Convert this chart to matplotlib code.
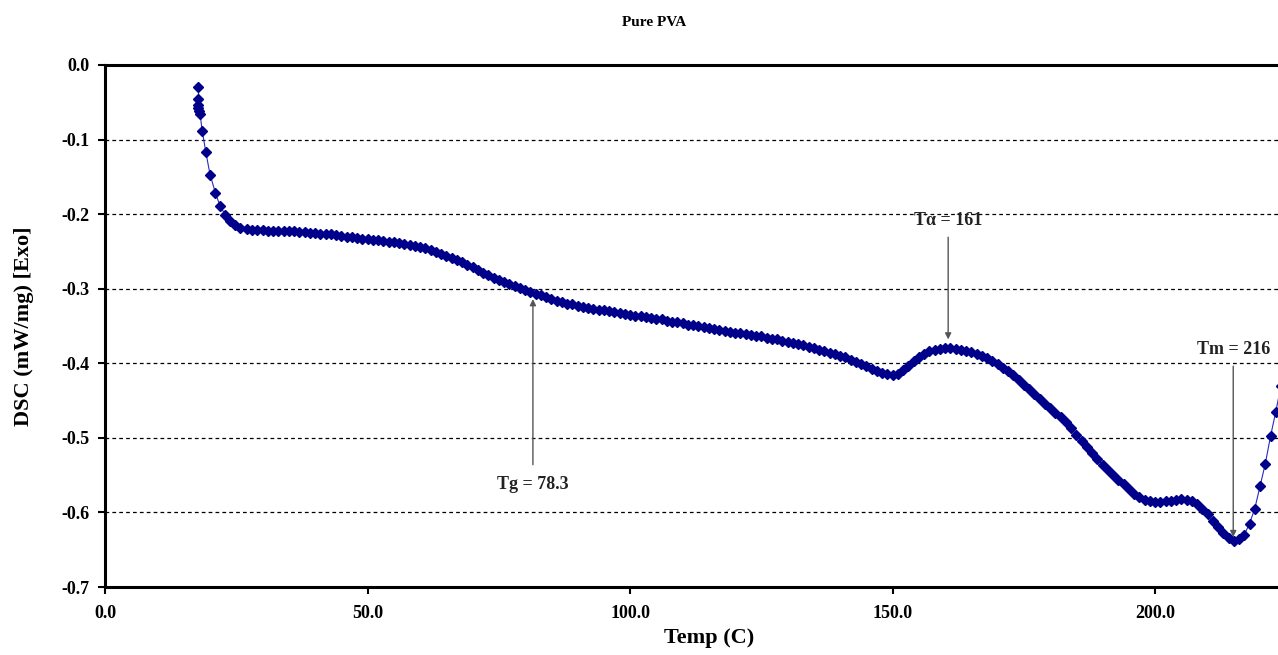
import matplotlib
matplotlib.use("Agg")
import matplotlib.pyplot as plt
from matplotlib.ticker import FormatStrFormatter

plt.rcParams['font.family'] = ['Liberation Serif', 'DejaVu Serif']
plt.rcParams['axes.unicode_minus'] = False

# DSC trace of pure PVA
temp = [17.8, 17.8, 17.8, 17.8, 17.9, 18.1, 18.5, 19.2, 20.0, 21.0, 21.9, 22.9, 23.8, 24.8, 25.7,
        27, 28, 29, 30, 31, 32, 33, 34, 35, 36, 37, 38, 39, 40,
        41, 42, 43, 44, 45, 46, 47, 48, 49, 50,
        51, 52, 53, 54, 55, 56, 57, 58, 59, 60,
        61, 62, 63, 64, 65, 66, 67, 68, 69, 70,
        71, 72, 73, 74, 75, 76, 77, 78, 79, 80,
        81, 82, 83, 84, 85, 86, 87, 88, 89, 90,
        91, 92, 93, 94, 95, 96, 97, 98, 99, 100,
        101, 102, 103, 104, 105, 106, 107, 108, 109, 110,
        111, 112, 113, 114, 115, 116, 117, 118, 119, 120,
        121, 122, 123, 124, 125, 126, 127, 128, 129, 130,
        131, 132, 133, 134, 135, 136, 137, 138, 139, 140,
        141, 142, 143, 144, 145, 146, 147, 148, 149, 150,
        151, 152, 153, 154, 155, 156, 157, 158, 159, 160,
        161, 162, 163, 164, 165, 166, 167, 168, 169, 170,
        171, 172, 173, 174, 175, 176, 177, 178, 179, 180,
        181, 182, 183, 184, 185, 186, 187, 188, 189, 190,
        191, 192, 193, 194, 195, 196, 197, 198, 199, 200,
        201, 202, 203, 204, 205, 206, 207, 208, 209, 210,
        211, 212, 213, 214, 215, 216, 217, 218, 219, 220,
        221, 222, 223, 224]
dsc = [-0.030, -0.046, -0.054, -0.058, -0.062, -0.066, -0.088, -0.117, -0.147, -0.171, -0.189, -0.201, -0.209, -0.215, -0.218,
       -0.220, -0.221, -0.221, -0.221, -0.222, -0.222, -0.222, -0.222, -0.223, -0.223, -0.224, -0.224, -0.225, -0.225,
       -0.226, -0.227, -0.227, -0.228, -0.229, -0.230, -0.231, -0.232, -0.233, -0.234,
       -0.235, -0.235, -0.236, -0.237, -0.238, -0.239, -0.240, -0.241, -0.243, -0.244,
       -0.246, -0.248, -0.251, -0.254, -0.256, -0.259, -0.262, -0.264, -0.268, -0.271,
       -0.275, -0.279, -0.282, -0.285, -0.288, -0.291, -0.294, -0.297, -0.299, -0.302,
       -0.305, -0.307, -0.309, -0.311, -0.314, -0.316, -0.318, -0.320, -0.321, -0.323,
       -0.324, -0.326, -0.327, -0.328, -0.329, -0.330, -0.331, -0.332, -0.334, -0.335,
       -0.336, -0.337, -0.338, -0.339, -0.340, -0.341, -0.343, -0.344, -0.345, -0.346,
       -0.348, -0.349, -0.350, -0.351, -0.353, -0.354, -0.355, -0.357, -0.358, -0.359,
       -0.360, -0.361, -0.362, -0.363, -0.364, -0.366, -0.367, -0.368, -0.370, -0.371,
       -0.373, -0.374, -0.376, -0.378, -0.380, -0.382, -0.384, -0.386, -0.388, -0.390,
       -0.392, -0.395, -0.398, -0.401, -0.404, -0.407, -0.410, -0.413, -0.415, -0.416,
       -0.414, -0.409, -0.403, -0.397, -0.392, -0.388, -0.384, -0.382, -0.381, -0.380,
       -0.380, -0.381, -0.382, -0.383, -0.385, -0.387, -0.390, -0.393, -0.397, -0.401,
       -0.406, -0.411, -0.416, -0.423, -0.429, -0.435, -0.441, -0.448, -0.454, -0.460,
       -0.466, -0.472, -0.479, -0.487, -0.496, -0.504, -0.512, -0.520, -0.528, -0.536,
       -0.543, -0.550, -0.556, -0.562, -0.569, -0.575, -0.579, -0.583, -0.585, -0.586,
       -0.586, -0.585, -0.584, -0.583, -0.582, -0.583, -0.585, -0.589, -0.595, -0.602,
       -0.611, -0.620, -0.628, -0.634, -0.638, -0.636, -0.630, -0.615, -0.595, -0.565,
       -0.535, -0.498, -0.465, -0.430]

# annotations: label, arrow x, tail y, head y, text y
notes = [('Tg = 78.3', 81.5, -0.536, -0.314, -0.563),
         ('Tα = 161', 160.6, -0.231, -0.368, -0.209),
         ('Tm = 216', 214.9, -0.404, -0.633, -0.382)]

fig = plt.figure(figsize=(12.78, 6.55), dpi=100)
ax = fig.add_axes([0.0822, 0.1038, 0.9448, 0.797])

ax.plot(temp, dsc, color='#2a2ac0', lw=0.8, marker='D', markersize=4.8,
        markerfacecolor='#00008b', markeredgecolor='#00008b', zorder=3)

for label, xa, ytail, yhead, ytext in notes:
    ax.annotate('', xy=(xa, yhead), xytext=(xa, ytail),
                arrowprops=dict(arrowstyle='-|>', color='#555555', lw=1.0,
                                mutation_scale=9, shrinkA=0, shrinkB=0))
    ax.text(xa, ytext, label, ha='center', va='center', fontsize=13,
            fontweight='bold', color='#222222')

ax.set_xlim(0, 230)
ax.set_ylim(-0.7, 0.0)
ax.set_xticks([0, 50, 100, 150, 200])
ax.set_yticks([-0.7, -0.6, -0.5, -0.4, -0.3, -0.2, -0.1, 0.0])
ax.xaxis.set_major_formatter(FormatStrFormatter('%.1f'))
ax.yaxis.set_major_formatter(FormatStrFormatter('%.1f'))
ax.tick_params(axis='both', direction='out', length=5, width=1.5, labelsize=13)
ax.tick_params(axis='x', pad=8)
ax.tick_params(axis='y', pad=6)
for lab in ax.get_xticklabels() + ax.get_yticklabels():
    lab.set_fontweight('bold')

ax.grid(axis='y', color='black', linestyle=(0, (3, 2.5)), lw=0.9)
for side in ['left', 'bottom', 'top', 'right']:
    ax.spines[side].set_linewidth(2.2)

ax.set_xlabel('Temp (C)', fontsize=16, fontweight='bold', labelpad=4)
ax.set_ylabel('DSC (mW/mg) [Exo]', fontsize=16, fontweight='bold', labelpad=20)
fig.text(0.512, 0.966, 'Pure PVA', ha='center', va='center', fontsize=11, fontweight='bold')

fig.savefig('out.png', dpi=100)
